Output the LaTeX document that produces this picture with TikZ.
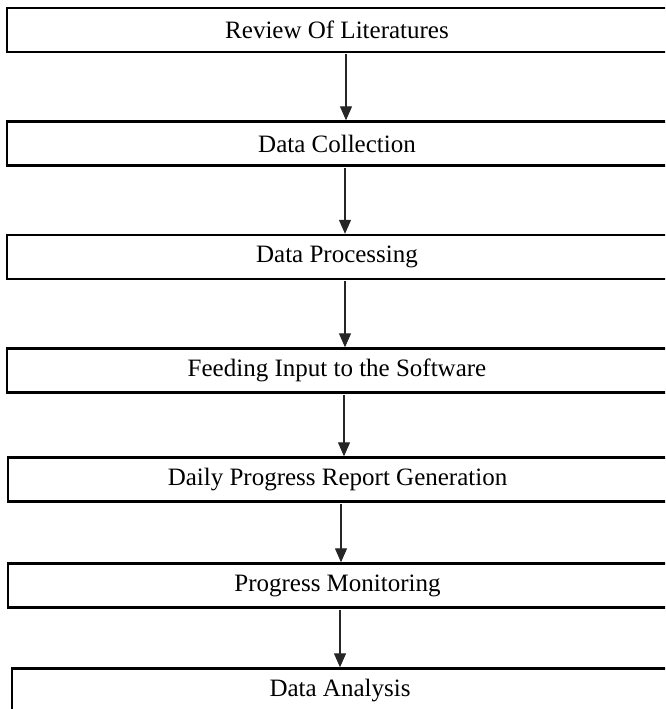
\documentclass[tikz,border=0pt]{standalone}
\usepackage{fontspec}
\setmainfont{Liberation Serif}
\usetikzlibrary{arrows.meta}

\tikzset{
  stepbox/.style={draw=black, line width=2.4pt, rectangle, inner sep=0pt,
    minimum height=44pt, font=\fontsize{25}{28}\selectfont},
  flowarrow/.style={draw=black!85, line width=1.2pt,
    -{Triangle[length=14pt,width=12pt]}, shorten <=1.2pt},
}

\begin{document}
\begin{tikzpicture}[x=1pt, y=-1pt]
  \clip (0,0) rectangle (665,709);
  \fill[white] (0,0) rectangle (665,709);

  % process steps, framed boxes running off the right edge
  \node[stepbox, minimum width=660pt] (s1) at (337,30)    {Review Of Literatures};
  \node[stepbox, minimum width=660pt] (s2) at (337,143.5) {Data Collection};
  \node[stepbox, minimum width=660pt] (s3) at (337,257)   {Data Processing};
  \node[stepbox, minimum width=660pt] (s4) at (337,370.5) {Feeding Input to the Software};
  \node[stepbox, minimum width=659pt] (s5) at (337.5,479.5) {Daily Progress Report Generation};
  \node[stepbox, minimum width=659pt] (s6) at (337.5,585.5) {Progress Monitoring};
  \node[stepbox, minimum width=656pt] (s7) at (340,690.5) {Data Analysis};

  % connectors between consecutive steps
  \draw[flowarrow] ([xshift=9pt]s1.south) -- ([xshift=9pt]s2.north);
  \draw[flowarrow] ([xshift=8pt]s2.south) -- ([xshift=8pt]s3.north);
  \draw[flowarrow] ([xshift=8pt]s3.south) -- ([xshift=8pt]s4.north);
  \draw[flowarrow] ([xshift=7pt]s4.south) -- ([xshift=6.5pt]s5.north);
  \draw[flowarrow] ([xshift=3.5pt]s5.south) -- ([xshift=3.5pt]s6.north);
  \draw[flowarrow] ([xshift=2.5pt]s6.south) -- ([xshift=0pt]s7.north);
\end{tikzpicture}
\end{document}
